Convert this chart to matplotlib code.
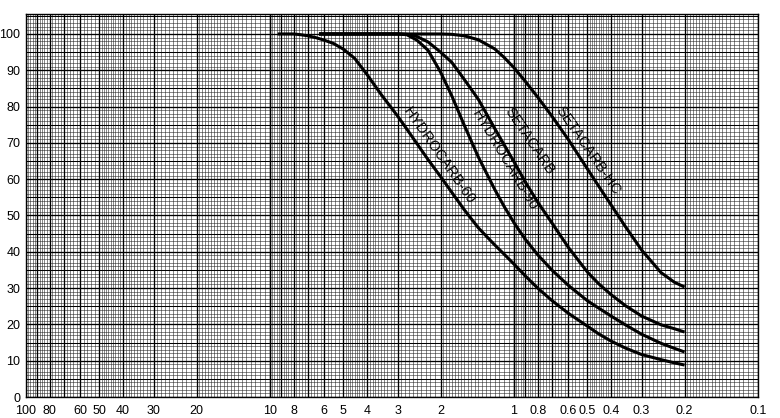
import numpy as np
import matplotlib
matplotlib.use("Agg")
import matplotlib.pyplot as plt
from matplotlib.ticker import FixedLocator, FixedFormatter, NullFormatter

plt.rcParams['font.family'] = ['Liberation Sans', 'DejaVu Sans']

# Particle size (micron) and cumulative % finer
h60_x = [9.3, 8.5, 8, 7.5, 7, 6.5, 6, 5.5, 5, 4.5, 4, 3.5, 3, 2.75, 2.5, 2.25, 2, 1.8, 1.6, 1.4,
         1.2, 1.1, 1, 0.9, 0.8, 0.7, 0.6, 0.5, 0.45, 0.4, 0.35, 0.3, 0.25, 0.22, 0.2]
h60_y = [100, 100, 100, 99.8, 99.5, 99, 98.3, 97.4, 95.8, 93.3, 88.8, 83.3, 77.4, 73.8, 69.8, 65.4,
         60.7, 56.4, 51.6, 46.6, 41.9, 39.4, 36.6, 33.4, 30.0, 26.6, 23.1, 19.5, 17.4, 15.4, 13.5,
         11.7, 10.3, 9.4, 8.8]

h90_x = [6.3, 5, 4, 3.5, 3, 2.75, 2.5, 2.25, 2, 1.8, 1.6, 1.4, 1.2, 1.1, 1, 0.9, 0.8, 0.7, 0.6,
         0.5, 0.45, 0.4, 0.35, 0.3, 0.25, 0.22, 0.2]
h90_y = [100, 100, 100, 100, 100, 99.8, 98.3, 95.5, 89.5, 83.0, 74.9, 66.1, 57.2, 52.6, 48.0, 43.5,
         39.2, 35.0, 30.8, 26.5, 24.5, 22.3, 19.9, 17.3, 14.8, 13.4, 12.4]

seta_x = [6.3, 5, 4, 3.5, 3, 2.75, 2.5, 2.25, 2, 1.8, 1.6, 1.4, 1.2, 1.1, 1, 0.9, 0.8, 0.7, 0.6,
          0.5, 0.45, 0.4, 0.35, 0.3, 0.25, 0.22, 0.2]
seta_y = [100, 100, 100, 100, 100, 99.9, 99.3, 97.8, 95.0, 92.2, 87.5, 82.0, 74.0, 69.6, 64.8,
          59.3, 53.7, 48.0, 41.3, 34.4, 31.2, 28.2, 25.2, 22.3, 19.9, 18.8, 17.9]

setahc_x = [6.3, 5, 4, 3, 2.5, 2, 1.8, 1.6, 1.4, 1.2, 1.1, 1, 0.9, 0.8, 0.7, 0.6, 0.5, 0.45, 0.4,
            0.35, 0.3, 0.25, 0.22, 0.2]
setahc_y = [100, 100, 100, 100, 100, 100, 99.9, 99.5, 98.4, 95.9, 93.6, 90.7, 87.0, 82.6, 77.4,
            71.0, 62.8, 58.1, 52.9, 47.0, 40.5, 34.3, 31.6, 30.3]

series = [
    ("HYDROCARB-60", h60_x, h60_y, (2.03, 66.5), -55),
    ("HYDROCARB-90", h90_x, h90_y, (1.09, 65.3), -59),
    ("SETACARB", seta_x, seta_y, (0.865, 70.6), -56),
    ("SETACARB-HC", setahc_x, setahc_y, (0.497, 67.9), -55.5),
]

x_tick_vals = [100, 80, 60, 50, 40, 30, 20, 10, 8, 6, 5, 4, 3, 2, 1, 0.8, 0.6, 0.5, 0.4, 0.3, 0.2, 0.1]
x_tick_labels = ["100", "80", "60", "50", "40", "30", "20", "10", "8", "6", "5", "4", "3", "2", "1",
                 "0.8", "0.6", "0.5", "0.4", "0.3", "0.2", "0.1"]
y_tick_vals = [0, 10, 20, 30, 40, 50, 60, 70, 80, 90, 100]

fig = plt.figure(figsize=(7.8, 4.18), dpi=100)
ax = fig.add_axes([26/780, 21/418, 732/780, 383/418])
ax.set_xscale('log')
ax.set_xlim(100, 0.1)
ax.set_ylim(0, 105.5)

# log-paper grid
major_v = []
minor_v = []
for b in [0.1, 1, 10]:
    for n in range(1, 11):
        major_v.append(round(n * b, 6))
    for m in np.concatenate([np.arange(1, 2, 0.05), np.arange(2, 5, 0.1), np.arange(5, 10, 0.2)]):
        minor_v.append(round(m * b, 6))
minor_v = [v for v in minor_v if v not in major_v]
for v in minor_v:
    ax.axvline(v, color='#222222', lw=0.45, alpha=0.85, zorder=1)
for v in major_v:
    ax.axvline(v, color='black', lw=0.95, zorder=2)
for h in np.arange(0, 106, 1):
    if h % 10 == 0:
        ax.axhline(h, color='black', lw=0.95, zorder=2)
    elif h % 5 == 0:
        ax.axhline(h, color='black', lw=0.75, zorder=2)
    else:
        ax.axhline(h, color='#222222', lw=0.45, alpha=0.85, zorder=1)

for name, xs, ys, (lx, ly), rot in series:
    ax.plot(xs, ys, color='black', lw=2.2, solid_capstyle='butt', solid_joinstyle='round', zorder=4)
    ax.text(lx, ly, name, rotation=rot, rotation_mode='anchor', ha='center', va='center',
            fontsize=10.5, color='black', zorder=5)

ax.xaxis.set_major_locator(FixedLocator(x_tick_vals))
ax.xaxis.set_major_formatter(FixedFormatter(x_tick_labels))
ax.xaxis.set_minor_locator(FixedLocator([]))
ax.xaxis.set_minor_formatter(NullFormatter())
ax.set_yticks(y_tick_vals)
ax.tick_params(axis='both', length=0, labelsize=9)
ax.tick_params(axis='x', pad=6)
ax.tick_params(axis='y', pad=4)
for s in ax.spines.values():
    s.set_linewidth(1.0)
    s.set_color('black')

fig.savefig('out.png', dpi=100)
